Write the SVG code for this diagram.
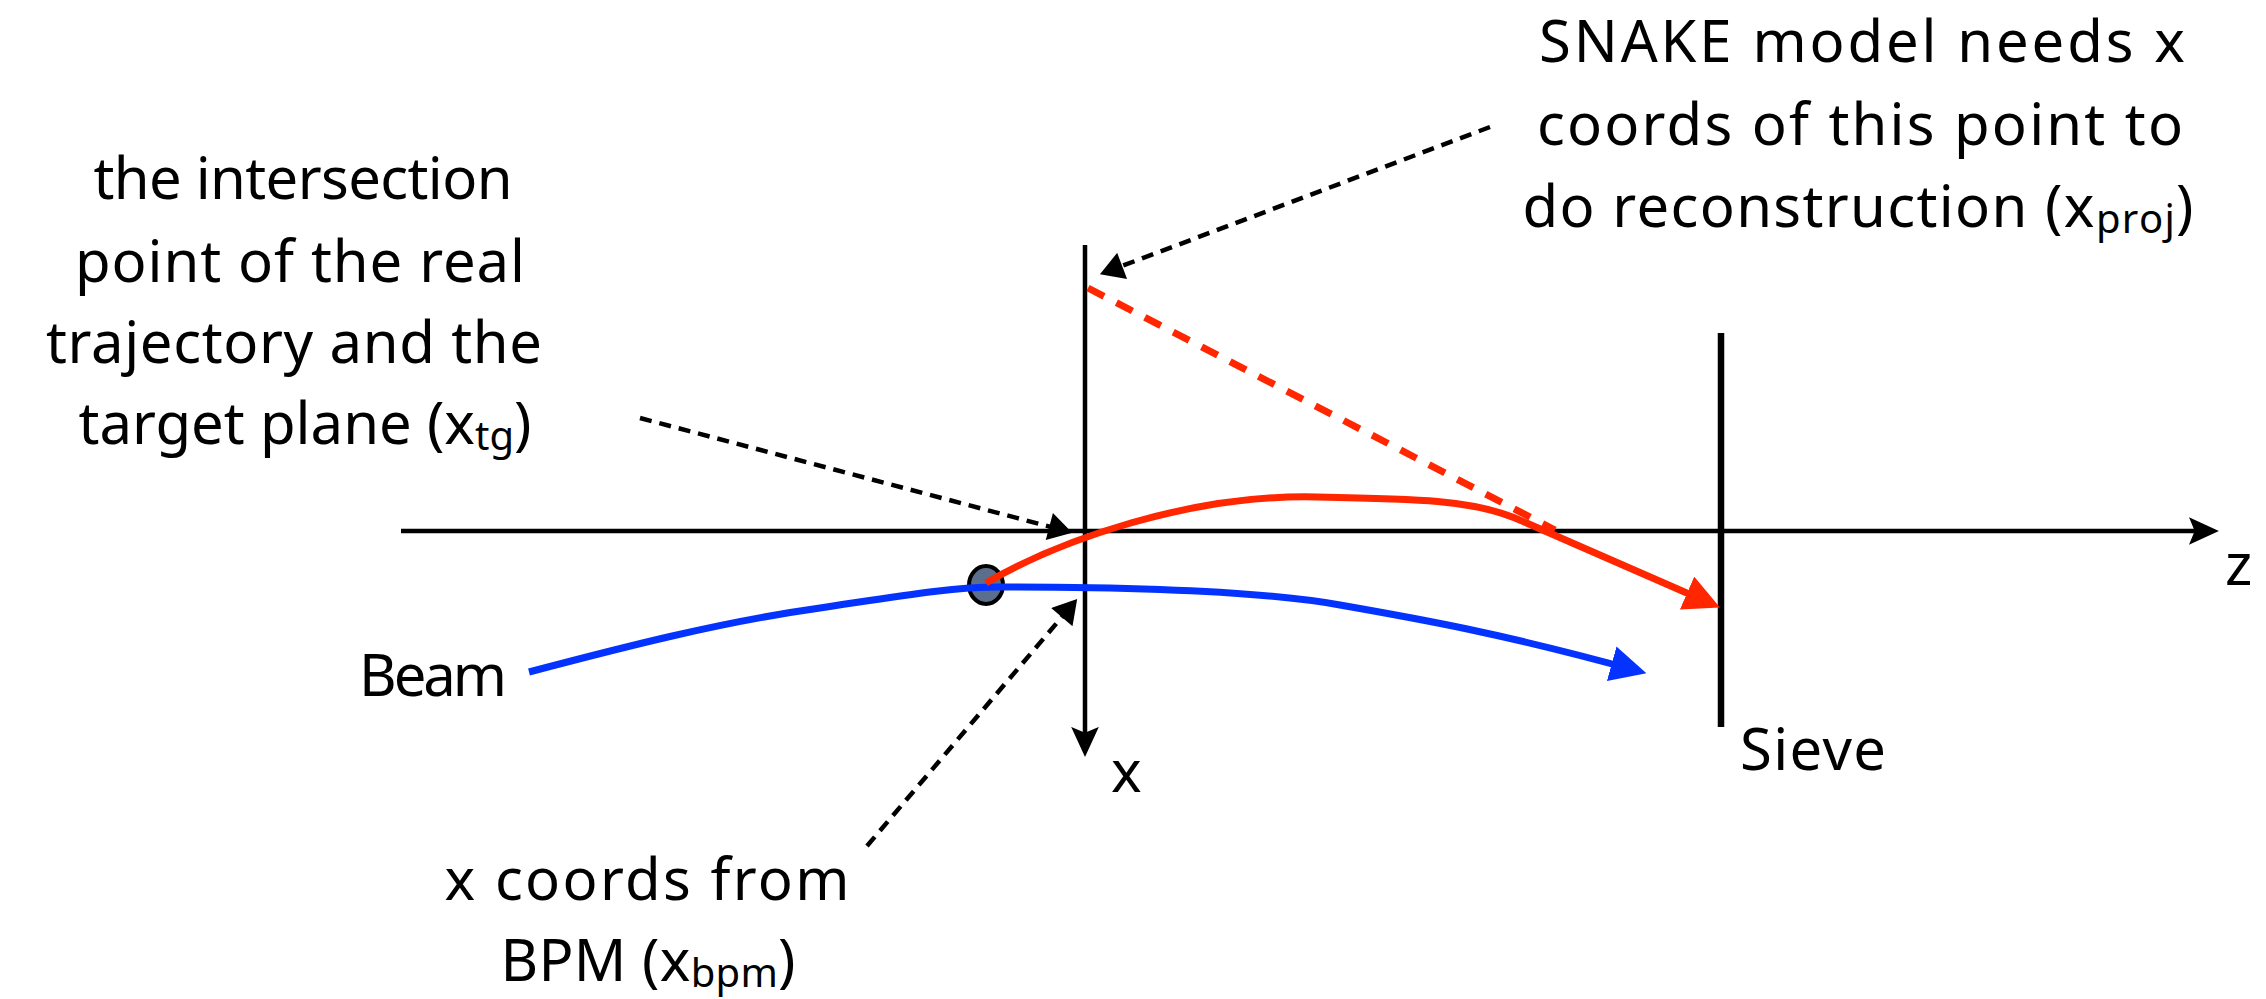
<svg xmlns="http://www.w3.org/2000/svg" width="2266" height="999" viewBox="0 0 2266 999">
<style>
  .t { font-family: "Noto Sans", "DejaVu Sans", sans-serif; font-size: 58px; fill: #000; }
  .sub { font-size: 40px; }
  .axis { stroke: #000; stroke-width: 4.5; fill: none; }
  .sieve { stroke: #000; stroke-width: 6.5; fill: none; }
  .dash { stroke: #000; stroke-width: 4.5; fill: none; stroke-dasharray: 12 8; }
  .red { stroke: #ff2600; stroke-width: 7; fill: none; }
  .reddash { stroke: #ff2600; stroke-width: 7; fill: none; stroke-dasharray: 18 14; }
  .blue { stroke: #0433ff; stroke-width: 7; fill: none; }
</style>
<defs>
  <marker id="axArrow" markerUnits="userSpaceOnUse" markerWidth="30" markerHeight="30" viewBox="0 0 26 26" refX="20" refY="13" orient="auto">
    <path d="M0,1 L26,13 L0,25 L5,13 z" fill="#000"/>
  </marker>
  <marker id="dashArrow" markerUnits="userSpaceOnUse" markerWidth="26" markerHeight="28" viewBox="0 0 22 26" refX="16" refY="13" orient="auto">
    <path d="M0,0 L22,13 L0,26 z" fill="#000"/>
  </marker>
  <marker id="redArrow" markerUnits="userSpaceOnUse" markerWidth="36" markerHeight="36" viewBox="0 0 33 33" refX="25" refY="16.5" orient="auto">
    <path d="M0,0 L33,16.5 L0,33 z" fill="#ff2600"/>
  </marker>
  <marker id="blueArrow" markerUnits="userSpaceOnUse" markerWidth="36" markerHeight="36" viewBox="0 0 33 33" refX="25" refY="16.5" orient="auto">
    <path d="M0,0 L33,16.5 L0,33 z" fill="#0433ff"/>
  </marker>
</defs>
<rect width="2266" height="999" fill="#fff"/>

<g id="axes">
  <path id="z-axis" class="axis" d="M401,531 L2212,531" marker-end="url(#axArrow)"/>
  <path id="x-axis" class="axis" d="M1085,245 L1085,750" marker-end="url(#axArrow)"/>
  <path id="sieve-plane" class="sieve" d="M1721,333 L1721,727"/>
</g>

<g id="bpm">
  <ellipse cx="986" cy="585" rx="17" ry="19" fill="#5b6e8c" stroke="#000" stroke-width="4"/>
</g>

<g id="connectors">
  <path id="beam-path" class="blue" d="M529,672 C620,648 720,622 820,608 C900,596 950,587 1000,587 C1100,587 1250,589 1340,605 C1420,619 1500,633 1638,671" marker-end="url(#blueArrow)"/>
  <path id="real-trajectory" class="red" d="M986,583 C1060,540 1190,494 1317,497 C1420,499 1470,500 1515,518 L1712,604" marker-end="url(#redArrow)"/>
  <path id="projected-line" class="reddash" d="M1088,288 L1555,530"/>
  <path id="snake-arrow" class="dash" d="M1490,127 L1106,272" marker-end="url(#dashArrow)"/>
  <path id="intersection-arrow" class="dash" d="M640,418 L1066,531" marker-end="url(#dashArrow)"/>
  <path id="bpm-arrow" class="dash" d="M867,846 L1073,604" marker-end="url(#dashArrow)"/>
</g>

<g id="label-intersection">
  <text class="t" x="303" y="199" text-anchor="middle" textLength="419">the intersection</text>
  <text class="t" x="300" y="282" text-anchor="middle" textLength="450">point of the real</text>
  <text class="t" x="294" y="363" text-anchor="middle" textLength="496">trajectory and the</text>
  <text class="t" x="305" y="444" text-anchor="middle" textLength="453">target plane (x<tspan class="sub" dy="6">tg</tspan><tspan dy="-6">)</tspan></text>
</g>

<g id="label-snake">
  <text class="t" x="1862" y="62" text-anchor="middle" textLength="646">SNAKE model needs x</text>
  <text class="t" x="1860" y="145" text-anchor="middle" textLength="646">coords of this point to</text>
  <text class="t" x="1858" y="227" text-anchor="middle" textLength="671">do reconstruction (x<tspan class="sub" dy="6">proj</tspan><tspan dy="-6">)</tspan></text>
</g>

<g id="label-bpm">
  <text class="t" x="647" y="900" text-anchor="middle" textLength="405">x coords from</text>
  <text class="t" x="648" y="981" text-anchor="middle" textLength="295">BPM (x<tspan class="sub" dy="6">bpm</tspan><tspan dy="-6">)</tspan></text>
</g>

<g id="label-beam">
  <text class="t" x="359" y="696" textLength="148">Beam</text>
</g>
<g id="label-sieve">
  <text class="t" x="1740" y="770" textLength="146">Sieve</text>
</g>
<g id="label-x">
  <text class="t" x="1111" y="792">x</text>
</g>
<g id="label-z">
  <text class="t" x="2225" y="585">z</text>
</g>
</svg>
